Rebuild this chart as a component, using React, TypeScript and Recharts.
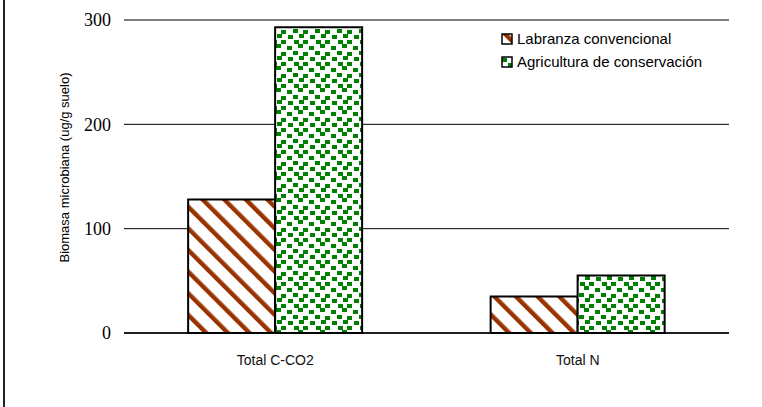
import { BarChart, Bar, XAxis, YAxis, CartesianGrid, Legend } from 'recharts'

const categories = ['Total C-CO2', 'Total N']
const labranza = [128, 35]
const conservacion = [293, 55]
const yTicks = [0, 100, 200, 300]
const seriesNames = ['Labranza convencional', 'Agricultura de conservación']
const yTitle = 'Biomasa microbiana (ug/g suelo)'

const data = categories.map((name, i) => ({
  name,
  labranza: labranza[i],
  conservacion: conservacion[i],
}))

const sans = '"Liberation Sans", Arial, sans-serif'
const serif = '"Liberation Serif", "Times New Roman", serif'

const legendItems = [
  { name: seriesNames[0], fill: 'url(#stripes)' },
  { name: seriesNames[1], fill: 'url(#confetti)' },
]

// scattered squares for the confetti fill, one 22px tile
const confettiSquares = [
  [1, 2], [12, 0], [7, 7], [17, 8], [2, 13], [13, 12], [8, 18], [17, 18],
]

function LegendBox() {
  return (
    <div style={{ fontFamily: sans, fontSize: 15, color: '#000' }}>
      {legendItems.map((item) => (
        <div key={item.name} style={{ display: 'flex', alignItems: 'center', height: 23 }}>
          <svg width={12} height={12} style={{ marginRight: 4 }}>
            <rect x={1} y={1} width={10} height={10} fill={item.fill} stroke="#000" strokeWidth={1.5} />
          </svg>
          <span>{item.name}</span>
        </div>
      ))}
    </div>
  )
}

function YTitle({ viewBox }: any) {
  const cx = viewBox.x + 14.5
  const cy = viewBox.y + viewBox.height / 2 - 9
  return (
    <text
      x={cx}
      y={cy}
      transform={`rotate(-90 ${cx} ${cy})`}
      textAnchor="middle"
      dominantBaseline="central"
      fontFamily={sans}
      fontSize={13}
      fill="#000"
    >
      {yTitle}
    </text>
  )
}

export default function App() {
  return (
    <div style={{ position: 'absolute', left: 0, top: 0, width: 762, height: 407, background: '#fff' }}>
      <div style={{ position: 'absolute', left: 3, top: 0, width: 2, height: 407, background: '#222' }} />
      <BarChart
        width={762}
        height={407}
        data={data}
        margin={{ top: 20, right: 33, bottom: 34, left: 50 }}
        barCategoryGap="21.2%"
        barGap={0}
      >
        <defs>
          <pattern id="stripes" width={15.3} height={15.3} patternUnits="userSpaceOnUse" patternTransform="rotate(-45)">
            <rect width={15.3} height={15.3} fill="#fff" />
            <rect x={0} y={0} width={4.4} height={15.3} fill="#993300" />
          </pattern>
          <pattern id="confetti" width={22} height={22} patternUnits="userSpaceOnUse">
            <rect width={22} height={22} fill="#fff" />
            {confettiSquares.map(([x, y]) => (
              <rect key={`${x}-${y}`} x={x} y={y} width={5} height={4} fill="#008000" />
            ))}
          </pattern>
        </defs>
        <CartesianGrid vertical={false} stroke="#000" strokeWidth={1} />
        <XAxis
          dataKey="name"
          axisLine={{ stroke: '#000', strokeWidth: 1.5 }}
          tickLine={false}
          tickSize={0}
          tickMargin={22}
          height={40}
          interval={0}
          tick={{ fontFamily: sans, fontSize: 14, fill: '#111' }}
        />
        <YAxis
          domain={[0, 300]}
          ticks={yTicks}
          axisLine={false}
          tickLine={false}
          tickSize={0}
          tickMargin={13}
          width={74}
          tick={{ fontFamily: serif, fontSize: 18, fill: '#000' }}
          label={<YTitle />}
        />
        <Legend
          content={<LegendBox />}
          layout="vertical"
          align="center"
          verticalAlign="middle"
          wrapperStyle={{ top: 27, left: 501, width: 250 }}
        />
        <Bar
          dataKey="labranza"
          name={seriesNames[0]}
          fill="url(#stripes)"
          stroke="#000"
          strokeWidth={2}
          isAnimationActive={false}
        />
        <Bar
          dataKey="conservacion"
          name={seriesNames[1]}
          fill="url(#confetti)"
          stroke="#000"
          strokeWidth={2}
          isAnimationActive={false}
        />
      </BarChart>
    </div>
  )
}
